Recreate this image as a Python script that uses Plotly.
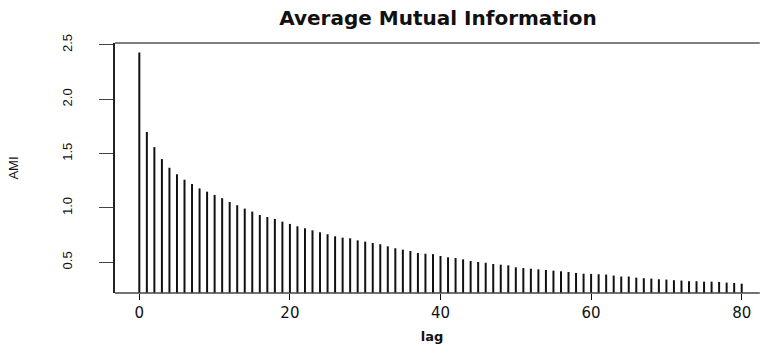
import plotly.graph_objects as go

# Average mutual information by lag
lags = list(range(0, 81))
ami = [
    2.43, 1.70, 1.56, 1.45, 1.37, 1.31, 1.26, 1.22, 1.18, 1.15,
    1.12, 1.09, 1.055, 1.025, 0.994, 0.966, 0.935, 0.917, 0.899, 0.874,
    0.853, 0.831, 0.813, 0.794, 0.776, 0.758, 0.739, 0.727, 0.721, 0.702,
    0.690, 0.678, 0.666, 0.647, 0.629, 0.616, 0.604, 0.586, 0.579, 0.575,
    0.558, 0.546, 0.539, 0.527, 0.512, 0.503, 0.496, 0.484, 0.478, 0.472,
    0.454, 0.447, 0.441, 0.435, 0.429, 0.423, 0.417, 0.411, 0.402, 0.395,
    0.393, 0.390, 0.387, 0.378, 0.369, 0.369, 0.359, 0.353, 0.350, 0.344,
    0.341, 0.335, 0.332, 0.326, 0.326, 0.322, 0.322, 0.319, 0.313, 0.310,
    0.303,
]
x_ticks = [0, 20, 40, 60, 80]
y_ticks = [0.5, 1.0, 1.5, 2.0, 2.5]
y_tick_text = ["0.5", "1.0", "1.5", "2.0", "2.5"]

# Vertical spikes from zero up to each value
xs, ys = [], []
for lag, v in zip(lags, ami):
    xs += [lag, lag, None]
    ys += [0, v, None]

fig = go.Figure()
fig.add_trace(go.Scatter(
    x=xs, y=ys, mode="lines",
    line=dict(color="#111111", width=2),
    hoverinfo="skip", showlegend=False,
))

axis_color = "#444444"

# Top and bottom borders of the plot box run on to the right edge of the page
for y_edge, col in [(1, "#555555"), (0, axis_color)]:
    fig.add_shape(type="line", xref="paper", yref="paper",
                  x0=0, x1=1.017, y0=y_edge, y1=y_edge,
                  line=dict(color=col, width=1.5))

fig.update_layout(
    width=761, height=345,
    margin=dict(l=115, r=12, t=43, b=52, autoexpand=False),
    paper_bgcolor="white", plot_bgcolor="white",
    font=dict(family="DejaVu Sans, Arial, sans-serif", color="#111111"),
    title=dict(
        text="<b>Average Mutual Information</b>",
        # centred over the plot box, which continues past the right edge
        x=(438 - 115) / (761 - 115 - 12), xref="paper", xanchor="center",
        y=0.948, yref="container", yanchor="middle",
        font=dict(size=20, family="DejaVu Sans, Arial, sans-serif"),
    ),
    xaxis=dict(
        range=[-3.23, 80.97],
        automargin=False,
        tickmode="array", tickvals=x_ticks,
        ticks="outside", ticklen=6, tickwidth=1.3, tickcolor="#111111",
        showline=False, showgrid=False, zeroline=False,
        tickfont=dict(size=15, family="DejaVu Sans, Arial, sans-serif"),
        title=dict(text="<b>lag</b>", standoff=10,
                   font=dict(size=13, family="DejaVu Sans, Arial, sans-serif")),
    ),
    yaxis=dict(
        range=[0.2174, 2.518],
        automargin=False,
        tickmode="array", tickvals=y_ticks, ticktext=y_tick_text,
        tickangle=-90,
        ticks="outside", ticklen=14, tickwidth=1.3, tickcolor=axis_color,
        ticklabelstandoff=22,
        showline=True, linecolor="#222222", linewidth=2, mirror=False,
        showgrid=False, zeroline=False,
        tickfont=dict(size=13, family="Liberation Sans Narrow, Liberation Sans, Arial, sans-serif"),
        title=dict(text="AMI", standoff=38,
                   font=dict(size=13, family="Liberation Sans Narrow, Liberation Sans, Arial, sans-serif")),
    ),
)

fig.write_html("out.html")
